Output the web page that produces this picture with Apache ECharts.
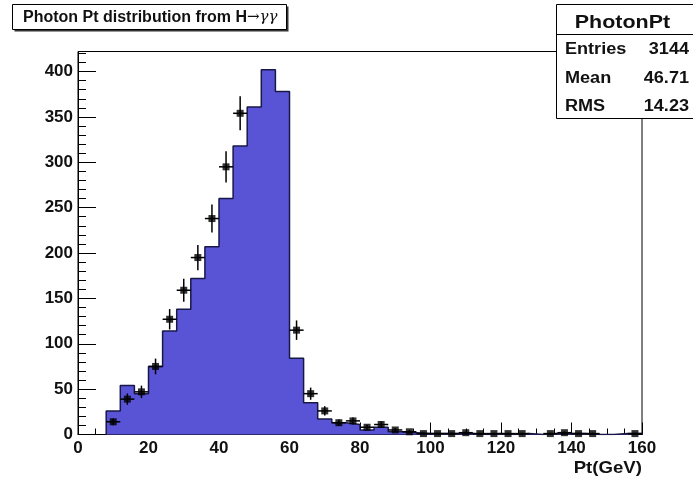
<!DOCTYPE html>
<html>
<head>
<meta charset="utf-8">
<script src="https://cdn.jsdelivr.net/npm/echarts@6/dist/echarts.min.js"></script>
<style>
  html, body { margin: 0; padding: 0; background: #ffffff; }
  #chart { width: 693px; height: 477px; }
</style>
</head>
<body>
<div id="chart"></div>
<script>
// Photon transverse momentum histogram, 4 GeV bins from 8 to 160 GeV
const binWidth = 4;
const binLow = [8, 12, 16, 20, 24, 28, 32, 36, 40, 44, 48, 52, 56, 60, 64, 68, 72, 76, 80, 84,
                88, 92, 96, 100, 104, 108, 112, 116, 120, 124, 128, 132, 136, 140, 144, 148, 152, 156];
// filled histogram contents
const histCounts = [26, 54, 45, 75, 114, 138, 172, 207, 260, 318, 361, 402, 378, 84, 35, 17, 13, 11, 5, 8,
                    3, 2, 1, 1, 1, 1, 0, 1, 0, 1, 0, 1, 1, 1, 0, 0, 1, 1];
// overlaid points (null = not drawn)
const pointCounts = [14, 39, 47, 75, 127, 159, 195, 238, 295, 354, null, null, null, 115, 45, 26, 13, 15, 8, 11,
                     5, 3, 1, 1, 1, 2, 1, 1, 1, 1, null, 1, 2, 1, 1, null, null, 1];

const histTitle = 'Photon Pt distribution from H';
const histTitleSymbols = '\u2192\u03b3\u03b3';
const statsName = 'PhotonPt';
const statsRows = [['Entries', '3144'], ['Mean', '46.71'], ['RMS', '14.23']];
const xAxisTitle = 'Pt(GeV)';

const xMin = 0, xMax = 160, xMajor = 20, xMinor = 5;
const yMin = 0, yMajor = 50, yMinor = 10;
const yMax = Math.max(...histCounts) * 1.05;

// step outline of the histogram, closed down to zero at both ends
const lastEdge = binLow[binLow.length - 1] + binWidth;
const stepData = [[binLow[0], 0]];
binLow.forEach((lo, i) => stepData.push([lo, histCounts[i]]));
stepData.push([lastEdge, histCounts[histCounts.length - 1]]);
stepData.push([lastEdge, 0]);

// points at bin centres with Poisson errors
const pointData = [];
binLow.forEach((lo, i) => {
  const v = pointCounts[i];
  if (v !== null) pointData.push([lo + binWidth / 2, v, Math.sqrt(v)]);
});

const labelFont = { fontFamily: 'Liberation Sans', fontWeight: 'bold', fontSize: 17, color: '#111' };
const stretch = 1.13;

const chart = echarts.init(document.getElementById('chart'), null, { renderer: 'canvas' });

chart.setOption({
  animation: false,
  backgroundColor: '#ffffff',
  grid: {
    left: 78, right: 51, top: 51.5, bottom: 42.5,
    containLabel: false, outerBoundsMode: 'none',
    show: true, borderColor: '#000', borderWidth: 1, backgroundColor: 'transparent'
  },
  xAxis: [
    {
      type: 'value', min: xMin, max: xMax, interval: xMinor,
      axisLine: { show: true, onZero: false, lineStyle: { color: '#000', width: 1 } },
      axisTick: { show: true, inside: true, length: 6, lineStyle: { color: '#000', width: 1 } },
      axisLabel: { show: false }, splitLine: { show: false }
    },
    {
      type: 'value', min: xMin, max: xMax, interval: xMajor, position: 'bottom',
      axisLine: { show: false, onZero: false },
      axisTick: { show: true, inside: true, length: 12, lineStyle: { color: '#000', width: 1 } },
      axisLabel: Object.assign({ show: true, margin: 5 }, labelFont),
      splitLine: { show: false }
    }
  ],
  yAxis: [
    {
      type: 'value', min: yMin, max: yMax, interval: yMinor,
      axisLine: { show: true, onZero: false, lineStyle: { color: '#000', width: 1 } },
      axisTick: { show: true, inside: true, length: 8, lineStyle: { color: '#000', width: 1 } },
      axisLabel: { show: false }, splitLine: { show: false }
    },
    {
      type: 'value', min: yMin, max: yMax, interval: yMajor, position: 'left',
      axisLine: { show: false, onZero: false },
      axisTick: { show: true, inside: true, length: 18, lineStyle: { color: '#000', width: 1 } },
      axisLabel: Object.assign({
        show: true, margin: 5, padding: [6, 0, 0, 0],
        formatter: v => (v % yMajor === 0 ? String(v) : '')
      }, labelFont),
      splitLine: { show: false }
    }
  ],
  series: [
    {
      type: 'line', xAxisIndex: 0, yAxisIndex: 0,
      step: 'end', symbol: 'none', data: stepData, z: 2,
      lineStyle: { color: '#181848', width: 1.5 },
      areaStyle: { color: '#5954d6', opacity: 1 }
    },
    {
      type: 'custom', xAxisIndex: 0, yAxisIndex: 0, z: 3,
      data: pointData,
      renderItem: (params, api) => {
        const x = api.value(0), y = api.value(1), e = api.value(2);
        const l = api.coord([x - binWidth / 2, y]);
        const r = api.coord([x + binWidth / 2, y]);
        const lo = api.coord([x, Math.max(y - e, 0)]);
        const hi = api.coord([x, y + e]);
        const st = { stroke: '#000', lineWidth: 1.5 };
        return {
          type: 'group',
          children: [
            { type: 'line', shape: { x1: l[0], y1: l[1], x2: r[0], y2: r[1] }, style: st },
            { type: 'line', shape: { x1: lo[0], y1: lo[1], x2: hi[0], y2: hi[1] }, style: st }
          ]
        };
      }
    },
    {
      type: 'scatter', xAxisIndex: 0, yAxisIndex: 0, z: 4,
      symbol: 'rect', symbolSize: 7,
      itemStyle: { color: '#000' },
      data: pointData.map(p => [p[0], p[1]])
    }
  ],
  graphic: [
    // title box with drop shadow
    { type: 'rect', z: 100, shape: { x: 14.5, y: 6.5, width: 274, height: 25 }, style: { fill: '#333' } },
    { type: 'rect', z: 101, shape: { x: 12.5, y: 4.5, width: 274, height: 25 }, style: { fill: '#fff', stroke: '#000', lineWidth: 1 } },
    {
      type: 'text', z: 102, x: 23, y: 17.5,
      style: {
        text: '{b|' + histTitle + '}{s|' + histTitleSymbols + '}',
        verticalAlign: 'middle', align: 'left',
        rich: {
          b: { fontFamily: 'Liberation Sans', fontWeight: 'bold', fontSize: 16, fill: '#111' },
          s: { fontFamily: 'DejaVu Serif', fontStyle: 'italic', fontSize: 15, fill: '#111' }
        }
      }
    },
    // statistics box
    { type: 'rect', z: 100, shape: { x: 556.5, y: 4.5, width: 150, height: 114 }, style: { fill: '#fff', stroke: '#000', lineWidth: 1 } },
    { type: 'line', z: 101, shape: { x1: 556.5, y1: 34.5, x2: 693, y2: 34.5 }, style: { stroke: '#000', lineWidth: 1 } },
    {
      type: 'text', z: 102, x: 622.5, y: 22.5, scaleX: stretch,
      style: { text: statsName, align: 'center', verticalAlign: 'middle',
               fontFamily: 'Liberation Sans', fontWeight: 'bold', fontSize: 19, fill: '#111' }
    },
    ...statsRows.flatMap((row, i) => [
      {
        type: 'text', z: 102, x: 565, y: 50 + i * 28.3, scaleX: stretch,
        style: { text: row[0], align: 'left', verticalAlign: 'middle',
                 fontFamily: 'Liberation Sans', fontWeight: 'bold', fontSize: 16, fill: '#111' }
      },
      {
        type: 'text', z: 102, x: 689, y: 50 + i * 28.3, scaleX: stretch,
        style: { text: row[1], align: 'right', verticalAlign: 'middle',
                 fontFamily: 'Liberation Sans', fontWeight: 'bold', fontSize: 16, fill: '#111' }
      }
    ]),
    // x axis title
    {
      type: 'text', z: 102, x: 642, y: 468.5, scaleX: stretch,
      style: { text: xAxisTitle, align: 'right', verticalAlign: 'middle',
               fontFamily: 'Liberation Sans', fontWeight: 'bold', fontSize: 16.5, fill: '#111' }
    }
  ]
});
</script>
</body>
</html>
